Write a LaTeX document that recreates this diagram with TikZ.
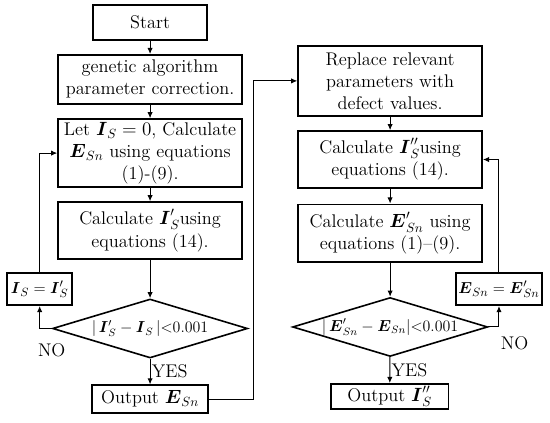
\documentclass[tikz,border=0pt]{standalone}
\usepackage{amsmath,amssymb}
\usetikzlibrary{arrows.meta,positioning,shapes.geometric}
\tikzset{
  box/.style={draw=black,line width=1.2pt,fill=white,align=center,inner sep=2pt},
  decision/.style={draw=black,line width=1.2pt,diamond,aspect=3.3,inner sep=0pt,minimum width=5.16cm,minimum height=1.56cm,font=\fontsize{12}{14}\selectfont},
  flow/.style={-{Latex[length=1.6mm,width=1.4mm]},line width=0.75pt},
  lbl/.style={inner sep=1pt},
  setbox/.style={box,minimum height=0.85cm,inner sep=1pt,font=\fontsize{12.5}{15}\selectfont}
}
\newcommand{\vI}{\boldsymbol{I}}
\newcommand{\vE}{\boldsymbol{E}}
\begin{document}
\begin{tikzpicture}[font=\fontsize{13.8}{16.6}\selectfont]
  \useasboundingbox (0,0) rectangle (14.55,-11.17);
  % left column
  \node[box,minimum width=3.02cm,minimum height=0.93cm] (start) at (3.97,-0.595) {Start};
  \node[box,minimum width=4.87cm,minimum height=1.30cm] (gen) at (3.97,-2.10) {genetic algorithm\\parameter correction.};
  \node[box,minimum width=4.87cm,minimum height=1.80cm] (let) at (3.97,-4.05) {Let $\vI_{S}=0$, Calculate\\$\vE_{Sn}$ using equations\\(1)-(9).};
  \node[box,minimum width=4.87cm,minimum height=1.51cm] (calcI) at (3.97,-6.10) {Calculate $\vI'_{S}$using\\equations (14).};
  \node[decision] (chkI) at (3.97,-8.69) {$|\,\vI'_{S}-\vI_{S}\,|$<0.001};
  \node[setbox,minimum width=1.72cm] (setI) at (1.05,-7.65) {$\vI_{S}=\vI'_{S}$};
  \node[box,minimum width=3.07cm,minimum height=0.74cm] (outE) at (3.97,-10.56) {Output $\vE_{Sn}$};
  % right column
  \node[box,minimum width=4.87cm,minimum height=1.85cm] (repl) at (10.32,-2.14) {Replace relevant\\parameters with\\defect values.};
  \node[box,minimum width=4.87cm,minimum height=1.51cm] (calcII) at (10.32,-4.22) {Calculate $\vI''_{S}$using\\equations (14).};
  \node[box,minimum width=4.87cm,minimum height=1.53cm] (calcE) at (10.32,-6.17) {Calculate $\vE'_{Sn}$ using\\equations (1)--(9).};
  \node[decision] (chkE) at (10.32,-8.65) {$|\,\vE'_{Sn}-\vE_{Sn}|$<0.001};
  \node[setbox,minimum width=2.28cm] (setE) at (13.20,-7.65) {$\vE_{Sn}=\vE'_{Sn}$};
  \node[box,minimum width=3.10cm,minimum height=0.66cm] (outI) at (10.31,-10.49) {Output $\vI''_{S}$};
  % connectors
  \draw[flow] (start) -- (gen);
  \draw[flow] (gen) -- (let);
  \draw[flow] (let) -- (calcI);
  \draw[flow] (calcI) -- (chkI);
  \draw[flow] (chkI) -- node[lbl,right]{YES} (outE);
  \draw[flow] (chkI.west) -| node[lbl,pos=0,below=3.6mm]{NO} (setI.south);
  \draw[flow] (setI.north) |- (let.west);
  \draw[flow] (outE.east) -- ++(1.19,0) |- (repl.west);
  \draw[flow] (repl) -- (calcII);
  \draw[flow] (calcII) -- (calcE);
  \draw[flow] (calcE) -- (chkE);
  \draw[flow] (chkE) -- node[lbl,right]{YES} (outI);
  \draw[flow] (chkE.east) -| node[lbl,pos=0.5,below right=2mm and 0mm]{NO} (setE.south);
  \draw[flow] (setE.north) |- (calcII.east);
\end{tikzpicture}
\end{document}
